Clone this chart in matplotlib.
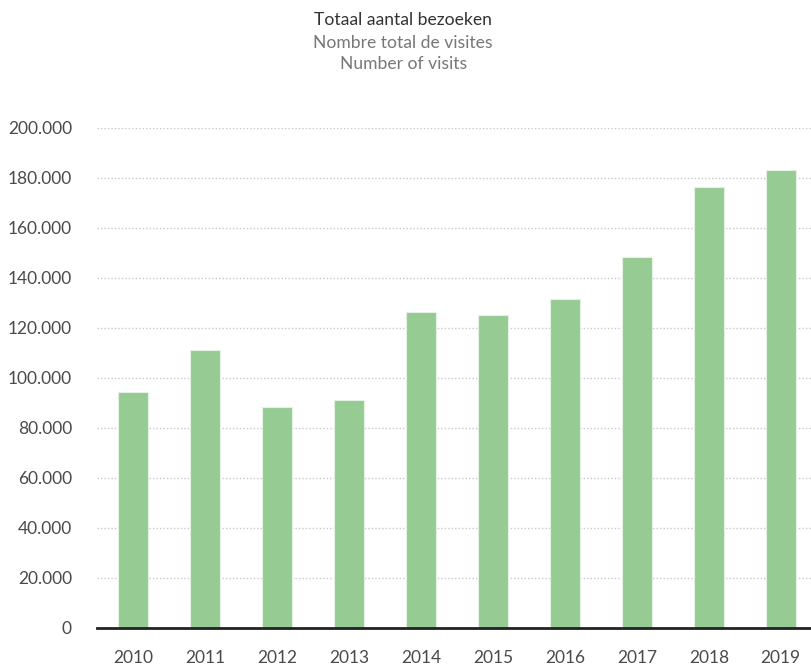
import matplotlib.pyplot as plt
from matplotlib.ticker import FuncFormatter

years = ["2010", "2011", "2012", "2013", "2014", "2015", "2016", "2017", "2018", "2019"]
visits = [94400, 111200, 88400, 91100, 126400, 125200, 131700, 148400, 176400, 183200]
title_lines = ["Totaal aantal bezoeken", "Nombre total de visites", "Number of visits"]

plt.rcParams['font.family'] = ['Lato', 'DejaVu Sans']

fig = plt.figure(figsize=(8.11, 6.66), dpi=100)
ax = fig.add_axes([97 / 811, 1 - 628 / 666, 1 - 97 / 811, 500 / 666])

x = range(len(years))
ax.bar(x, visits, width=0.41, color="#97cb94", edgecolor="#e4f2e3", linewidth=0.8, zorder=3)

ax.set_xlim(-0.5, 9.42)
ax.set_ylim(0, 200000)
ax.set_yticks(range(0, 200001, 20000))
ax.yaxis.set_major_formatter(FuncFormatter(lambda v, p: f"{int(v):,}".replace(",", ".")))
ax.set_xticks(list(x))
ax.set_xticklabels(years)

# gestippelde rasterlijnen
ax.grid(axis="y", color="#c8c8c8", linestyle=(0, (1, 1.5)), linewidth=1, zorder=0)
for s in ["top", "right", "left"]:
    ax.spines[s].set_visible(False)
ax.spines["bottom"].set_color("#222222")
ax.spines["bottom"].set_linewidth(2)
ax.spines["bottom"].set_zorder(4)

ax.tick_params(axis="both", length=0, labelsize=12.5, colors="#4a4a4a")
ax.tick_params(axis="x", pad=16)
ax.tick_params(axis="y", pad=18)

fig.text(0.497, 1 - 20 / 666, title_lines[0], ha="center", va="center", fontsize=12.6, color="#333333")
fig.text(0.497, 1 - 43 / 666, title_lines[1], ha="center", va="center", fontsize=12.6, color="#777777")
fig.text(0.497, 1 - 64 / 666, title_lines[2], ha="center", va="center", fontsize=12.6, color="#777777")

fig.savefig("out.png", dpi=100)
